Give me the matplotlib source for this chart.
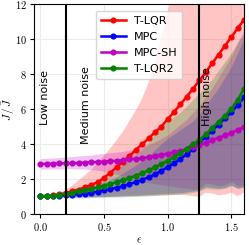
import numpy as np
import matplotlib
matplotlib.use("Agg")
import matplotlib.pyplot as plt
from matplotlib.ticker import FuncFormatter

plt.rcParams['mathtext.fontset'] = 'cm'
plt.rcParams['font.family'] = ['DejaVu Sans']

eps = [0.00, 0.05, 0.10, 0.15, 0.20, 0.25, 0.30, 0.35, 0.40, 0.45, 0.50,
       0.55, 0.60, 0.65, 0.70, 0.75, 0.80, 0.85, 0.90, 0.95, 1.00,
       1.05, 1.10, 1.15, 1.20, 1.25, 1.30, 1.35, 1.40, 1.45, 1.50, 1.55, 1.60]

tlqr = [1.00, 1.01, 1.05, 1.10, 1.18, 1.28, 1.38, 1.50, 1.64, 1.80, 2.05,
        2.35, 2.65, 2.98, 3.30, 3.65, 3.98, 4.30, 4.65, 4.98, 5.40,
        5.82, 6.25, 6.70, 7.15, 7.62, 8.10, 8.60, 9.10, 9.60, 10.10, 10.60, 11.10]
tlqr_lo = [0.98, 0.97, 0.96, 0.96, 0.96, 0.96, 0.96, 0.96, 0.96, 0.97, 0.97,
           0.98, 0.98, 0.99, 1.00, 1.00, 1.00, 1.02, 1.03, 1.04, 1.05,
           1.06, 1.08, 1.05, 1.00, 0.95, 1.20, 1.15, 1.05, 1.10, 1.20, 1.00, 1.20]
tlqr_hi = [1.02, 1.05, 1.10, 1.20, 1.35, 1.60, 1.90, 2.20, 2.50, 2.90, 3.30,
           3.75, 4.20, 4.70, 5.30, 5.90, 6.60, 7.50, 8.60, 10.00, 11.50,
           13.0, 14.0, 15.0, 16.0, 17.0, 18.0, 19.0, 20.0, 21.0, 22.0, 23.0, 24.0]

mpc = [1.00, 1.00, 1.01, 1.03, 1.05, 1.08, 1.11, 1.15, 1.20, 1.26, 1.33,
       1.40, 1.49, 1.58, 1.69, 1.81, 1.94, 2.08, 2.24, 2.45, 2.66,
       2.88, 3.13, 3.40, 3.70, 4.05, 4.40, 4.75, 5.10, 5.45, 5.80, 6.20, 6.65]
mpc_lo = [0.99, 0.98, 0.97, 0.96, 0.96, 0.96, 0.96, 0.96, 0.96, 0.97, 0.98,
          0.99, 1.00, 1.02, 1.04, 1.06, 1.08, 1.10, 1.12, 1.14, 1.16,
          1.18, 1.20, 1.25, 1.30, 1.35, 1.55, 1.50, 1.45, 1.50, 1.65, 1.45, 1.55]
mpc_hi = [1.01, 1.03, 1.05, 1.08, 1.12, 1.20, 1.30, 1.40, 1.52, 1.65, 1.80,
          1.95, 2.12, 2.32, 2.55, 2.78, 3.02, 3.30, 3.65, 4.00, 4.30,
          4.55, 4.80, 5.05, 5.30, 5.70, 6.20, 6.70, 7.20, 7.80, 8.40, 9.20, 10.00]

mpcsh = [2.84, 2.85, 2.86, 2.87, 2.88, 2.89, 2.90, 2.92, 2.94, 2.96, 2.98,
         3.00, 3.03, 3.06, 3.10, 3.14, 3.18, 3.23, 3.29, 3.36, 3.43,
         3.51, 3.60, 3.70, 3.81, 3.93, 4.06, 4.20, 4.34, 4.48, 4.63, 4.79, 4.95]
mpcsh_lo = [2.55, 2.55, 2.56, 2.56, 2.57, 2.57, 2.56, 2.55, 2.52, 2.48, 2.42,
            2.35, 2.25, 2.15, 2.05, 1.95, 1.85, 1.78, 1.72, 1.66, 1.60,
            1.55, 1.50, 1.45, 1.40, 1.45, 1.75, 1.70, 1.60, 1.65, 1.85, 1.60, 1.65]
mpcsh_hi = [3.15, 3.17, 3.19, 3.21, 3.24, 3.27, 3.30, 3.33, 3.36, 3.40, 3.44,
            3.48, 3.52, 3.57, 3.62, 3.70, 3.80, 3.95, 4.10, 4.30, 4.50,
            4.80, 5.10, 5.40, 5.80, 6.20, 6.70, 7.20, 7.80, 8.40, 9.00, 9.80, 10.50]

tlqr2 = [1.00, 1.00, 1.03, 1.08, 1.14, 1.20, 1.27, 1.34, 1.42, 1.50, 1.60,
         1.70, 1.80, 1.92, 2.04, 2.18, 2.32, 2.48, 2.65, 2.84, 3.03,
         3.24, 3.47, 3.72, 3.98, 4.20, 4.55, 4.90, 5.25, 5.60, 6.00, 6.50, 7.15]
tlqr2_lo = [0.98, 0.96, 0.94, 0.92, 0.91, 0.90, 0.90, 0.90, 0.91, 0.92, 0.93,
            0.94, 0.95, 0.96, 0.97, 0.98, 1.00, 1.02, 1.04, 1.06, 1.08,
            1.10, 1.12, 1.16, 1.22, 1.30, 1.45, 1.40, 1.40, 1.45, 1.60, 1.45, 1.50]
tlqr2_hi = [1.02, 1.04, 1.08, 1.13, 1.20, 1.30, 1.42, 1.55, 1.70, 1.88, 2.08,
            2.30, 2.55, 2.82, 3.10, 3.40, 3.70, 4.10, 4.55, 4.95, 5.30,
            5.55, 5.80, 6.15, 6.55, 6.90, 7.30, 7.70, 8.20, 8.70, 9.20, 9.80, 10.30]

series = [
    ("T-LQR", tlqr, tlqr_lo, tlqr_hi, "red"),
    ("MPC", mpc, mpc_lo, mpc_hi, "blue"),
    ("MPC-SH", mpcsh, mpcsh_lo, mpcsh_hi, "m"),
    ("T-LQR2", tlqr2, tlqr2_lo, tlqr2_hi, "green"),
]

fig = plt.figure(figsize=(2.49, 2.45), dpi=100)
ax = fig.add_axes([0.1365, 0.128, 0.8435, 0.856])

for name, m, lo, hi, c in series:
    ax.fill_between(eps, lo, hi, color=c, alpha=0.23, linewidth=0)
for name, m, lo, hi, c in series:
    ax.plot(eps, m, color=c, marker='o', markersize=3.4, linewidth=1.8, label=name)

ax.axvline(0.2, color='black', linewidth=1.5)
ax.axvline(1.25, color='black', linewidth=1.5)

ax.text(0.0, 5.05, "Low noise", rotation=90, ha='left', va='bottom', fontsize=8)
ax.text(0.318, 4.0, "Medium noise", rotation=90, ha='left', va='bottom', fontsize=8)
ax.text(1.268, 5.0, "High noise", rotation=90, ha='left', va='bottom', fontsize=8)

ax.set_xlim(-0.05, 1.6)
ax.set_ylim(0, 12)
ax.set_xticks([0.0, 0.5, 1.0, 1.5])
ax.set_yticks([0, 2, 4, 6, 8, 10, 12])
ax.xaxis.set_major_formatter(FuncFormatter(lambda v, p: r"$%.1f$" % v))
ax.yaxis.set_major_formatter(FuncFormatter(lambda v, p: r"$%d$" % v))
ax.tick_params(labelsize=7.5, length=3, width=0.8, pad=2)
ax.grid(True, color='#ebebeb', linewidth=0.8)
ax.set_axisbelow(True)
ax.set_xlabel(r"$\epsilon$", fontsize=8, labelpad=2)
ax.set_ylabel(r"$J\,/\,\bar{J}$", fontsize=8)
ax.yaxis.set_label_coords(-0.08, 0.5)

leg = ax.legend(loc='upper center', fontsize=8, handlelength=2.3, borderpad=0.45,
                labelspacing=0.55, handletextpad=0.7, borderaxespad=0.6)

fig.savefig("out.png", dpi=100)
